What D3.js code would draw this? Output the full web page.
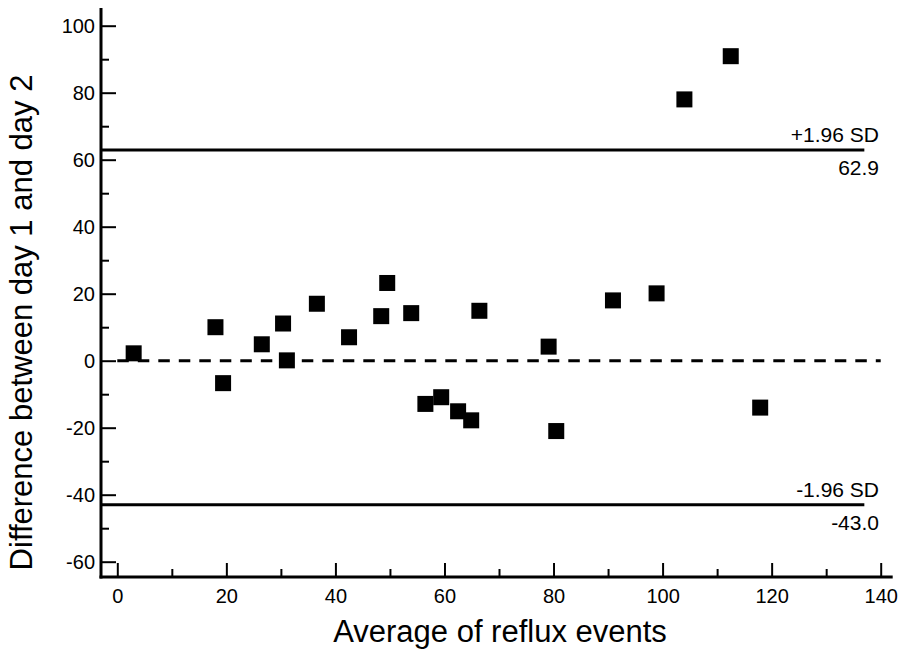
<!DOCTYPE html>
<html>
<head>
<meta charset="utf-8">
<script src="https://cdn.jsdelivr.net/npm/d3@7"></script>
<style>
  html, body { margin: 0; padding: 0; background: #fff; }
  svg { display: block; font-family: "Liberation Sans", Arial, sans-serif; }
</style>
</head>
<body>
<div id="chart"></div>
<script>
// ---- data ----
const avgValues  = [3.0, 18.0, 19.4, 26.5, 30.4, 31.1, 36.6, 42.5, 48.4, 49.5, 53.9, 56.5, 59.4, 62.5, 64.9, 66.4, 79.1, 80.5, 90.9, 98.9, 104.0, 112.5, 117.9];
const diffValues = [2.2, 10.0, -6.7, 4.9, 11.1, 0.1, 17.0, 7.0, 13.3, 23.2, 14.2, -12.9, -10.9, -15.1, -17.8, 14.9, 4.2, -21.0, 18.0, 20.1, 78.0, 90.9, -14.0];
const meanDiff = 0;
const upperLimit = 62.9;
const lowerLimit = -43.0;
const limitLabels = ["+1.96 SD", "-1.96 SD"];
const limitValueLabels = ["62.9", "-43.0"];
const xTicksMajor = [0, 20, 40, 60, 80, 100, 120, 140];
const xTicksMinor = [10, 30, 50, 70, 90, 110, 130];
const yTicksMajor = [-60, -40, -20, 0, 20, 40, 60, 80, 100];
const yTicksMinor = [-50, -30, -10, 10, 30, 50, 70, 90];
const xTitle = "Average of reflux events";
const yTitle = "Difference between day 1 and day 2";

// ---- layout ----
const W = 902, H = 650;
const svg = d3.select("#chart").append("svg").attr("width", W).attr("height", H);

const x = d3.scaleLinear().domain([0, 140]).range([117.3, 880.7]);
const y = d3.scaleLinear().domain([-60, 100]).range([561.7, 25.7]);

const axisX = 101;   // y-axis line position
const axisY = 577;   // x-axis line position
const fmt = d => String(d);

// y axis
const gy = svg.append("g").attr("transform", `translate(${axisX},0)`);
gy.call(d3.axisLeft(y).tickValues(yTicksMajor).tickSizeInner(-15).tickSizeOuter(0).tickPadding(6).tickFormat(fmt));
gy.append("g").call(d3.axisLeft(y).tickValues(yTicksMinor).tickSizeInner(-8).tickSizeOuter(0).tickFormat(""));
gy.selectAll(".domain").remove();
gy.selectAll("line").attr("stroke", "#000").attr("stroke-width", 2);
gy.selectAll("text").attr("font-size", 20).attr("fill", "#000").attr("font-family", "Liberation Sans, Arial, sans-serif");

// x axis
const gx = svg.append("g").attr("transform", `translate(0,${axisY})`);
gx.call(d3.axisBottom(x).tickValues(xTicksMajor).tickSizeInner(-14).tickSizeOuter(0).tickPadding(12).tickFormat(fmt));
gx.append("g").call(d3.axisBottom(x).tickValues(xTicksMinor).tickSizeInner(-8).tickSizeOuter(0).tickFormat(""));
gx.selectAll(".domain").remove();
gx.selectAll("line").attr("stroke", "#000").attr("stroke-width", 2);
gx.selectAll("text").attr("font-size", 20).attr("fill", "#000").attr("font-family", "Liberation Sans, Arial, sans-serif");

// axis lines
svg.append("line").attr("x1", axisX).attr("x2", axisX).attr("y1", y(105.3)).attr("y2", axisY + 1.5)
  .attr("stroke", "#000").attr("stroke-width", 3);
svg.append("line").attr("x1", axisX - 1.5).attr("x2", x(142.2)).attr("y1", axisY).attr("y2", axisY)
  .attr("stroke", "#000").attr("stroke-width", 3);

// limit lines
const limits = [upperLimit, lowerLimit];
svg.selectAll(".limit").data(limits).enter().append("line")
  .attr("x1", axisX).attr("x2", x(137))
  .attr("y1", d => y(d)).attr("y2", d => y(d))
  .attr("stroke", "#000").attr("stroke-width", 3);

svg.selectAll(".limitLabel").data(limits).enter().append("text")
  .attr("x", 879).attr("y", d => y(d) - 8)
  .attr("text-anchor", "end").attr("font-size", 21).attr("fill", "#000")
  .text((d, i) => limitLabels[i]);
svg.selectAll(".limitValue").data(limits).enter().append("text")
  .attr("x", 879).attr("y", d => y(d) + 25)
  .attr("text-anchor", "end").attr("font-size", 21).attr("fill", "#000")
  .text((d, i) => limitValueLabels[i]);

// mean (dashed)
svg.append("line")
  .attr("x1", x(0)).attr("x2", x(140))
  .attr("y1", y(meanDiff)).attr("y2", y(meanDiff))
  .attr("stroke", "#000").attr("stroke-width", 3)
  .attr("stroke-dasharray", "11.5,9");

// points
const S = 16;
svg.selectAll(".pt").data(avgValues).enter().append("rect")
  .attr("x", d => x(d) - S / 2)
  .attr("y", (d, i) => y(diffValues[i]) - S / 2)
  .attr("width", S).attr("height", S)
  .attr("fill", "#000");

// titles
svg.append("text").attr("x", 500).attr("y", 641.5)
  .attr("text-anchor", "middle").attr("font-size", 31).attr("fill", "#000")
  .text(xTitle);
svg.append("text").attr("transform", "translate(32,322.5) rotate(-90)")
  .attr("text-anchor", "middle").attr("font-size", 31).attr("fill", "#000")
  .text(yTitle);
</script>
</body>
</html>
